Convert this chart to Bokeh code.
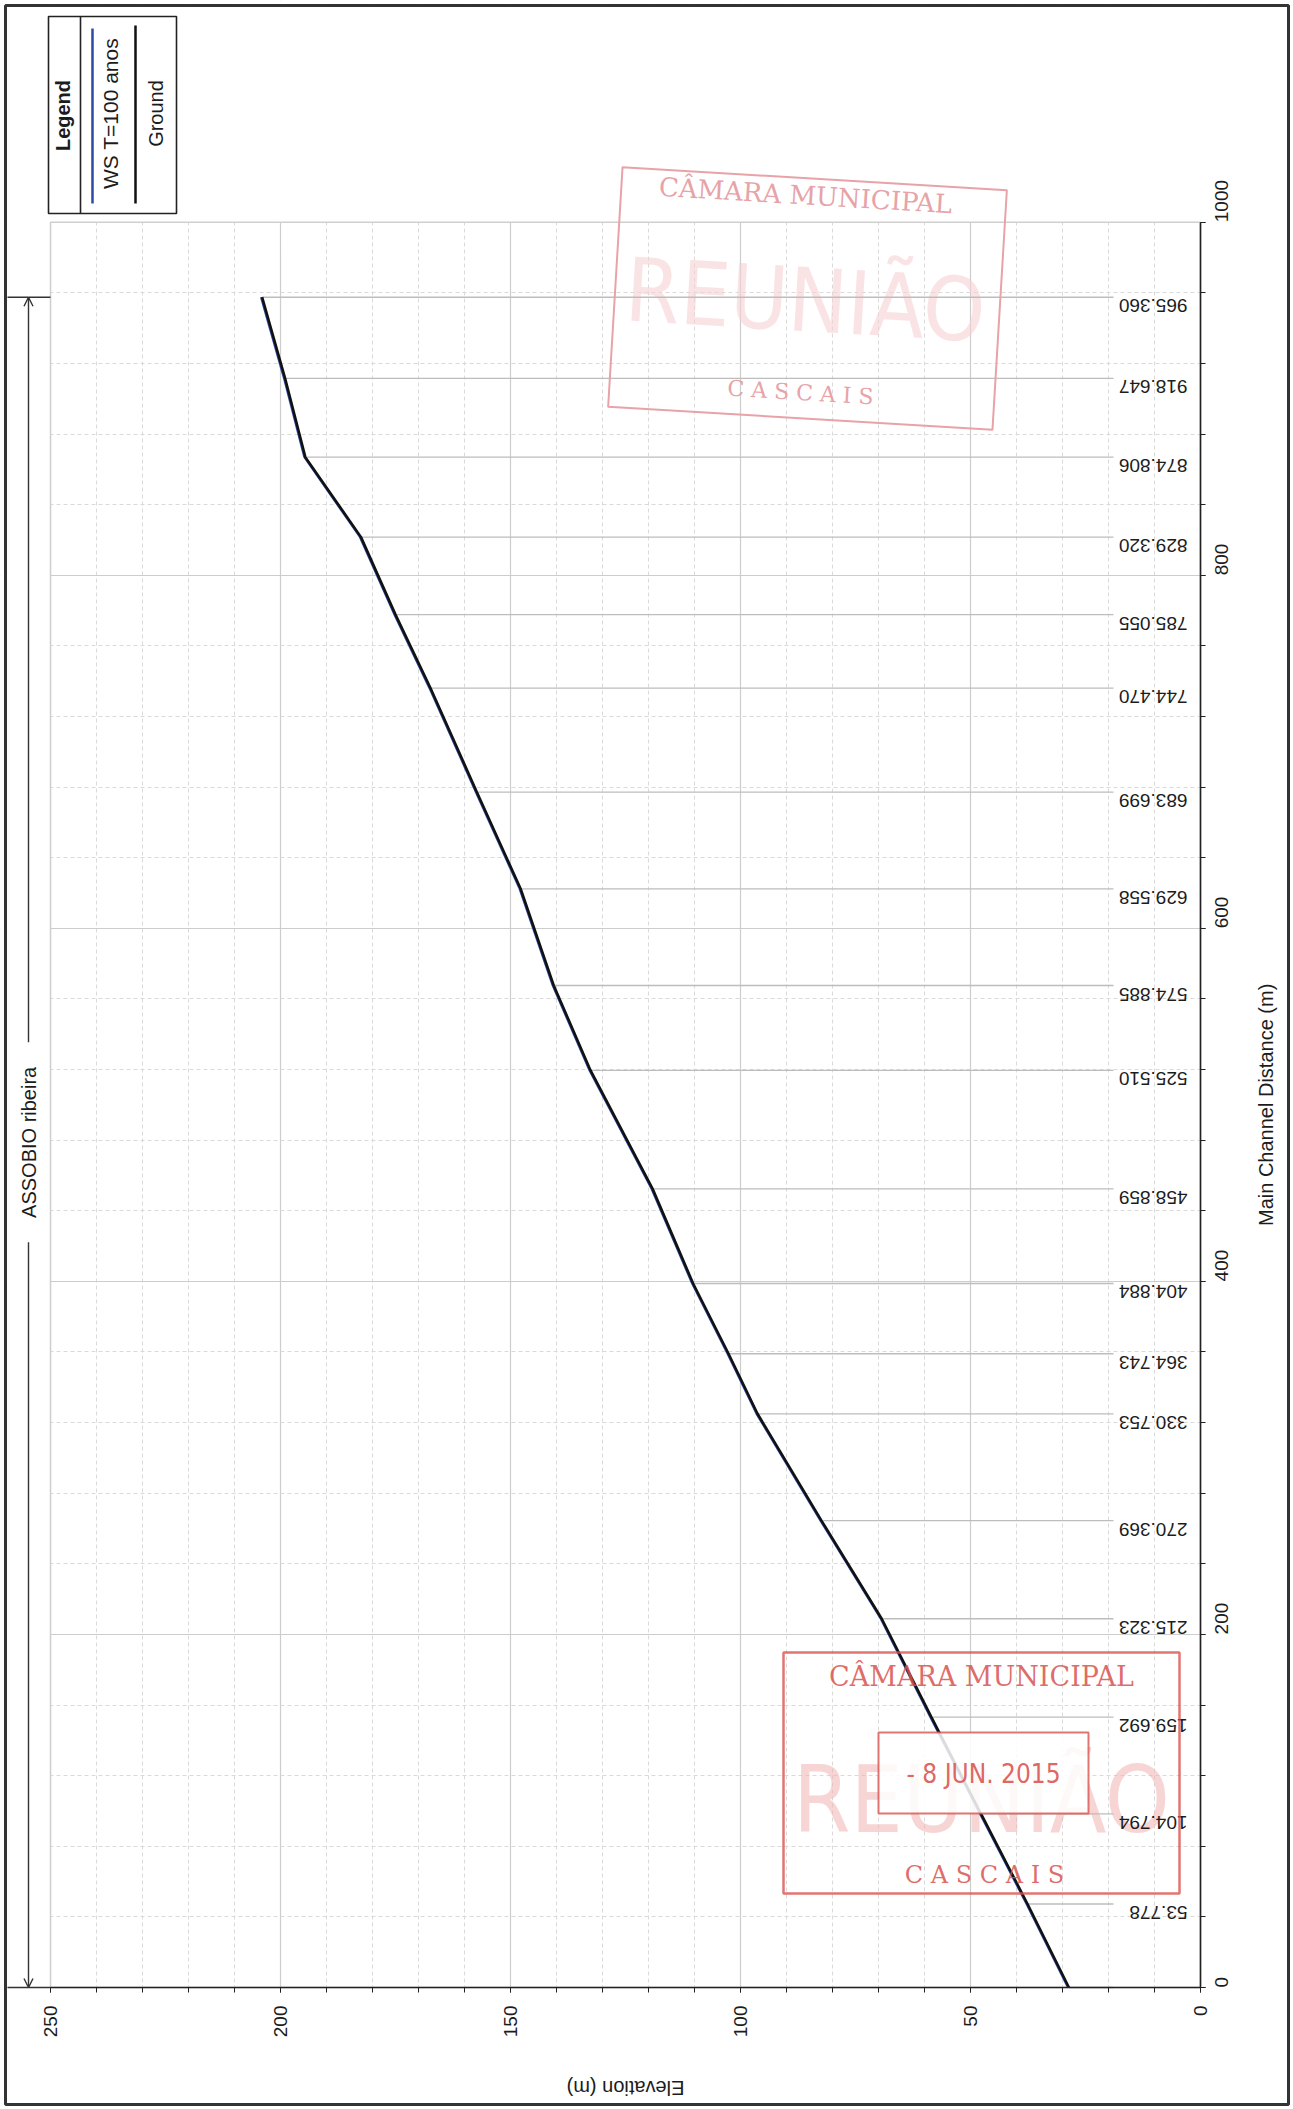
import math
from bokeh.plotting import figure
from bokeh.models import (Range1d, SingleIntervalTicker, LinearAxis, Grid, Arrow, OpenHead,
                          ColumnDataSource)
from bokeh.embed import file_html
from bokeh.resources import INLINE
from bokeh.core.properties import value

# ---------------- data ----------------
station_labels = ["965.360", "918.647", "874.806", "829.320", "785.055", "744.470",
                  "683.699", "629.558", "574.885", "525.510", "458.859", "404.884",
                  "364.743", "330.753", "270.369", "215.323", "159.692", "104.794",
                  "53.778", ""]
channel_dist = [957.5, 911.5, 866.9, 821.6, 777.7, 736.1, 677.1, 622.4, 567.6, 519.5,
                452.4, 398.8, 359.0, 325.0, 264.5, 208.9, 153.2, 98.3, 47.3, 0.0]
ground_elev = [204.0, 199.0, 194.6, 182.5, 175.0, 167.4, 157.3, 147.8, 140.6, 132.6,
               119.1, 110.3, 102.6, 96.3, 82.4, 69.3, 58.5, 47.7, 37.6, 28.6]
ws_elev = [204.3, 199.3, 194.9, 182.8, 175.3, 167.7, 157.6, 148.1, 140.9, 132.9,
           119.4, 110.6, 102.9, 96.6, 82.7, 69.6, 58.8, 48.0, 37.9, 28.9]
elev_bounds = (0, 250)
dist_bounds = (0, 1000)
reach_name = "ASSOBIO ribeira"
legend_title = "Legend"
legend_items = ["WS T=100 anos", "Ground"]
x_title = "Elevation (m)"
y_title = "Main Channel Distance (m)"

FONT = "Liberation Sans"
TXT = "#1c1c1c"
WS_COLOR = "#2e4aa8"
GROUND_COLOR = "#111111"
STAMP = "#d9534f"
NARROW = "'Liberation Sans Narrow', 'DejaVu Sans Condensed', 'Liberation Sans'"

# page-pixel helpers (canvas origin = page origin)
PX_E0, PX_PER_E = 1200.0, 4.6      # elevation 0 at x=1200, 4.6 px per metre
PY_D0, PY_PER_D = 1987.0, 1.7653   # distance 0 at y=1987


def ex(px):
    return (PX_E0 - px) / PX_PER_E


def dy(py):
    return (PY_D0 - py) / PY_PER_D


W, H = 1292, 2108
p = figure(width=W, height=H, output_backend="svg", toolbar_location=None,
           x_range=Range1d(ex(0), ex(W)), y_range=Range1d(dy(H), dy(0)),
           x_axis_type=None, y_axis_type=None, min_border=0)
p.min_border_left = p.min_border_right = p.min_border_top = p.min_border_bottom = 0
p.background_fill_color = "white"
p.border_fill_color = "white"
p.outline_line_color = None

xt = SingleIntervalTicker(interval=50, num_minor_ticks=5)
yt = SingleIntervalTicker(interval=200, num_minor_ticks=5)

for dim, tk, bd in ((0, xt, elev_bounds), (1, yt, dist_bounds)):
    g = Grid(dimension=dim, ticker=tk, bounds=bd)
    g.grid_line_color = "#cdcdcd"
    g.grid_line_width = 1.2
    g.minor_grid_line_color = "#dadada"
    g.minor_grid_line_dash = "4 3"
    g.minor_grid_line_width = 1
    p.add_layout(g)

# white covers so that the grid stays inside the plotting area
BIG = 1e4
p.quad(left=[elev_bounds[1], -BIG, -BIG, -BIG], right=[BIG, elev_bounds[0], BIG, BIG],
       bottom=[-BIG, -BIG, dist_bounds[1], -BIG], top=[BIG, BIG, BIG, dist_bounds[0]],
       fill_color="white", line_color=None)
# plot-area outline (light)
p.quad(left=[elev_bounds[1]], right=[elev_bounds[0]], bottom=[dist_bounds[0]],
       top=[dist_bounds[1]], fill_color=None, line_color="#cfcfcf", line_width=1.5)

# axes placed at fixed locations
ax_b = LinearAxis(ticker=xt, fixed_location=dist_bounds[0], bounds=elev_bounds)
ax_r = LinearAxis(ticker=yt, fixed_location=elev_bounds[0], bounds=dist_bounds)
for ax in (ax_b, ax_r):
    ax.axis_line_color = "#222222"
    ax.axis_line_width = 1.6
    ax.major_tick_line_color = "#222222"
    ax.minor_tick_line_color = "#222222"
    ax.major_tick_in = 0
    ax.major_tick_out = 5
    ax.minor_tick_in = 0
    ax.minor_tick_out = 5
    ax.major_label_text_font = FONT
    ax.major_label_text_font_size = "19px"
    ax.major_label_text_color = TXT
    ax.major_label_orientation = math.pi / 2
ax_b.major_label_standoff = 13
ax_r.major_label_standoff = 16
p.add_layout(ax_b, "below")
p.add_layout(ax_r, "right")

# axis titles
p.text(x=[sum(elev_bounds) / 2], y=[dy(2087)], text=[x_title], angle=math.pi,
       text_align="center", text_baseline="middle", text_font=value(FONT),
       text_font_size="20px", text_color=TXT)
p.text(x=[ex(1265)], y=[sum(dist_bounds) / 2], text=[y_title], angle=math.pi / 2,
       text_align="center", text_baseline="middle", text_font=value(FONT),
       text_font_size="20px", text_color=TXT)

# ---------------- stamps on the scanned sheet (behind the drawing) ----------------
FAINT = "#e7a3a8"
p.text(x=[ex(981)], y=[dy(1800)], text=["REUNIÃO"], text_align="center",
       text_baseline="middle", text_font=value(NARROW), text_font_size="92px",
       text_color="#f2b3b3", text_alpha=0.55)
p.text(x=[ex(805)], y=[dy(300)], text=["REUNIÃO"], angle=-0.06, text_align="center",
       text_baseline="middle", text_font=value(NARROW), text_font_size="88px",
       text_color="#f6d0d2", text_alpha=0.6)

# ---------------- station lines + labels ----------------
src = ColumnDataSource(dict(d=channel_dist, g=ground_elev, lab=station_labels,
                            e=[ex(1113)] * len(channel_dist), z=[0] * len(channel_dist)))
p.segment(x0="g", y0="d", x1="e", y1="d", source=src, line_color="#bdbdbd",
          line_width=1.3)
p.text(x="z", y="d", text="lab", source=src, angle=math.pi, x_offset=-13, y_offset=2,
       text_align="left", text_baseline="bottom", text_font=value(FONT),
       text_font_size="19px", text_color=TXT)

# ---------------- profiles ----------------
p.line(ws_elev, channel_dist, line_color=WS_COLOR, line_width=1.5)
p.line(ground_elev, channel_dist, line_color=GROUND_COLOR, line_width=2.6)

# ---------------- legend ----------------
p.quad(left=[ex(48)], right=[ex(176)], top=[dy(16)], bottom=[dy(213)], fill_color=None,
       line_color="#222222", line_width=1.6)
p.segment(x0=[ex(80)], y0=[dy(16)], x1=[ex(80)], y1=[dy(213)], line_color="#222222",
          line_width=1.6)
p.text(x=[ex(62)], y=[dy(115)], text=[legend_title], angle=math.pi / 2, text_align="center",
       text_baseline="middle", text_font=value(FONT), text_font_size="20px",
       text_font_style="bold", text_color=TXT)
p.segment(x0=[ex(92)], y0=[dy(28)], x1=[ex(92)], y1=[dy(203)], line_color=WS_COLOR,
          line_width=2.5)
p.text(x=[ex(110)], y=[dy(113)], text=[legend_items[0]], angle=math.pi / 2,
       text_align="center", text_baseline="middle", text_font=value(FONT),
       text_font_size="21px", text_color=TXT)
p.segment(x0=[ex(135)], y0=[dy(25)], x1=[ex(135)], y1=[dy(203)], line_color=GROUND_COLOR,
          line_width=2.5)
p.text(x=[ex(155)], y=[dy(113)], text=[legend_items[1]], angle=math.pi / 2,
       text_align="center", text_baseline="middle", text_font=value(FONT),
       text_font_size="20px", text_color=TXT)

# ---------------- reach bracket ----------------
top_d = channel_dist[0]
bot_d = channel_dist[-1]
mid_d = (top_d + bot_d) / 2
gap = 100 / PY_PER_D
p.segment(x0=[ex(7), ex(7)], y0=[top_d, bot_d], x1=[elev_bounds[1], elev_bounds[1]],
          y1=[top_d, bot_d], line_color="#333333", line_width=1.5)
for y0, y1 in ((mid_d + gap, top_d), (mid_d - gap, bot_d)):
    p.add_layout(Arrow(end=OpenHead(size=9, line_color="#333333", line_width=1.4),
                       x_start=ex(28), y_start=y0, x_end=ex(28), y_end=y1,
                       line_color="#333333", line_width=1.4))
p.text(x=[ex(28)], y=[mid_d], text=[reach_name], angle=math.pi / 2, text_align="center",
       text_baseline="middle", text_font=value(FONT), text_font_size="20px",
       text_color=TXT)

# ---------------- stamp frames and lettering ----------------
p.quad(left=[ex(783)], right=[ex(1179)], top=[dy(1652)], bottom=[dy(1893)], fill_color=None,
       line_color=STAMP, line_width=2.5, line_alpha=0.8)
p.text(x=[ex(981)], y=[dy(1676)], text=["CÂMARA MUNICIPAL"], text_align="center",
       text_baseline="middle", text_font=value("DejaVu Serif"), text_font_size="27px",
       text_color=STAMP, text_alpha=0.85)
p.quad(left=[ex(878)], right=[ex(1088)], top=[dy(1732)], bottom=[dy(1813)], fill_color="white",
       fill_alpha=0.85, line_color=STAMP, line_width=2, line_alpha=0.8)
p.text(x=[ex(983)], y=[dy(1773)], text=["- 8 JUN. 2015"], text_align="center",
       text_baseline="middle", text_font=value("DejaVu Sans Condensed"),
       text_font_size="26px", text_color=STAMP, text_alpha=0.9)
p.text(x=[ex(984)], y=[dy(1874)], text=["C A S C A I S"], text_align="center",
       text_baseline="middle", text_font=value("DejaVu Serif"), text_font_size="24px",
       text_color=STAMP, text_alpha=0.85)

p.rect(x=[ex(807)], y=[dy(298)], width=[385], height=[240], width_units="screen",
       height_units="screen", angle=-0.06, fill_color=None, line_color=FAINT, line_width=2)
p.text(x=[ex(805)], y=[dy(195)], text=["CÂMARA MUNICIPAL"], angle=-0.06,
       text_align="center", text_baseline="middle", text_font=value("DejaVu Serif"),
       text_font_size="26px", text_color=FAINT)
p.text(x=[ex(800)], y=[dy(392)], text=["C A S C A I S"], angle=-0.06, text_align="center",
       text_baseline="middle", text_font=value("DejaVu Serif"), text_font_size="22px",
       text_color=FAINT)

# ---------------- sheet frame ----------------
p.quad(left=[ex(5)], right=[ex(1288)], top=[dy(5)], bottom=[dy(2104)], fill_color=None,
       line_color="#333333", line_width=3)

open("out.html", "w").write(file_html(p, INLINE))
